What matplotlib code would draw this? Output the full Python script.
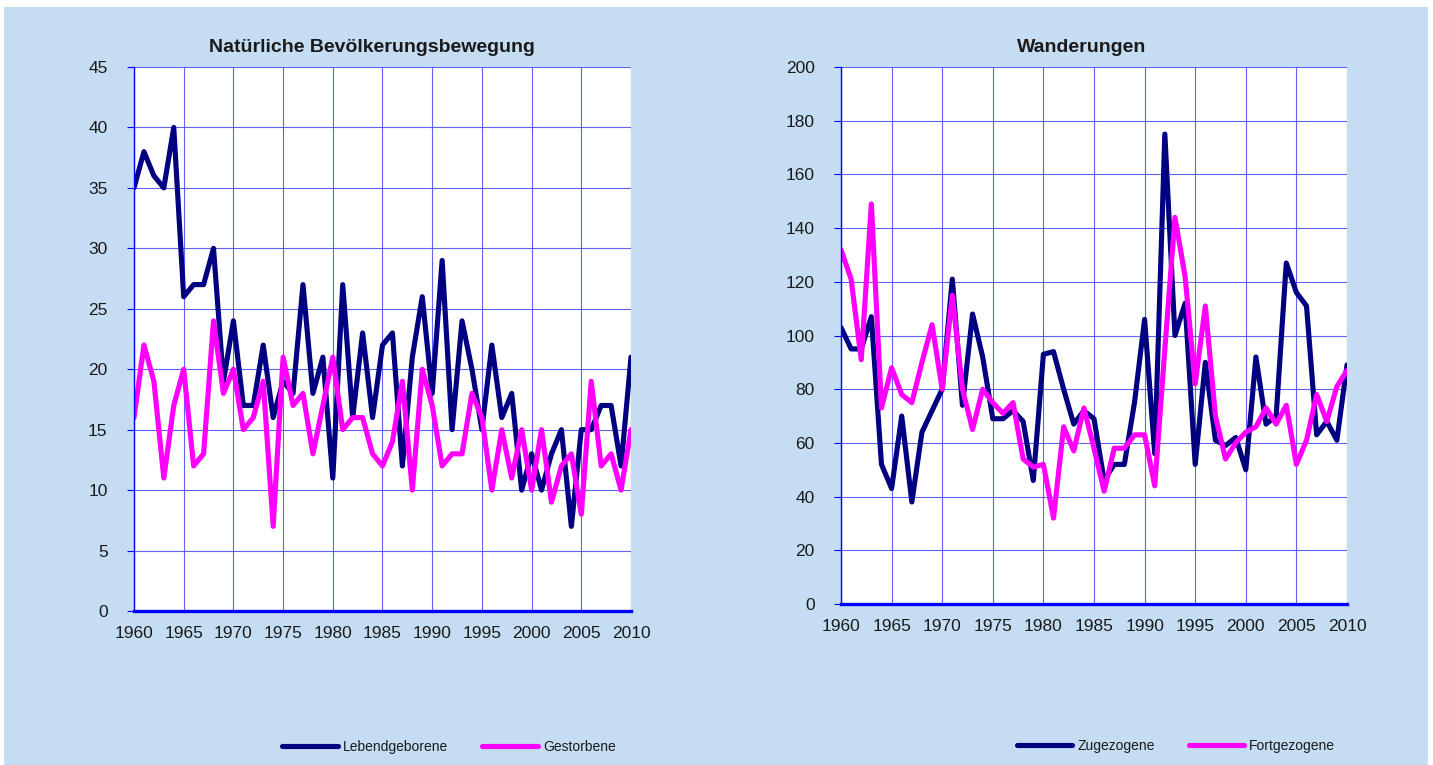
import matplotlib
matplotlib.use("Agg")
import matplotlib.pyplot as plt
from matplotlib.patches import Rectangle

plt.rcParams['font.family'] = ['Liberation Sans', 'DejaVu Sans']

# Jahre 1960 - 2010
jahre = list(range(1960, 2011))

# Natürliche Bevölkerungsbewegung
lebendgeborene = [35, 38, 36, 35, 40, 26, 27, 27, 30, 19,
                  24, 17, 17, 22, 16, 19, 18, 27, 18, 21,
                  11, 27, 16, 23, 16, 22, 23, 12, 21, 26,
                  18, 29, 15, 24, 20, 15, 22, 16, 18, 10,
                  13, 10, 13, 15, 7, 15, 15, 17, 17, 12,
                  21]
gestorbene = [16, 22, 19, 11, 17, 20, 12, 13, 24, 18,
              20, 15, 16, 19, 7, 21, 17, 18, 13, 17,
              21, 15, 16, 16, 13, 12, 14, 19, 10, 20,
              17, 12, 13, 13, 18, 16, 10, 15, 11, 15,
              10, 15, 9, 12, 13, 8, 19, 12, 13, 10,
              15]

# Wanderungen
zugezogene = [103, 95, 95, 107, 52, 43, 70, 38, 64, 72,
              80, 121, 74, 108, 92, 69, 69, 72, 68, 46,
              93, 94, 80, 67, 72, 69, 46, 52, 52, 75,
              106, 56, 175, 100, 112, 52, 90, 61, 59, 62,
              50, 92, 67, 70, 127, 116, 111, 63, 68, 61,
              89]
fortgezogene = [132, 121, 91, 149, 73, 88, 78, 75, 90, 104,
                80, 115, 80, 65, 80, 75, 71, 75, 54, 51,
                52, 32, 66, 57, 73, 58, 42, 58, 58, 63,
                63, 44, 95, 144, 122, 82, 111, 70, 54, 60,
                64, 66, 73, 67, 74, 52, 61, 78, 68, 81,
                87]

x_ticks = list(range(1960, 2011, 5))

NAVY = '#000080'
PINK = '#FF00FF'
BG = '#C5DDF2'
GRID = '#5050F5'
TXT = '#1a1a1a'

W, H = 1433, 765
fig = plt.figure(figsize=(W / 100, H / 100), dpi=100)
fig.patch.set_facecolor('white')
# hellblauer Hintergrund mit schmalem weissen Rand
fig.patches.append(Rectangle((4 / W, 0), 1424 / W, 758 / H, transform=fig.transFigure,
                             facecolor=BG, edgecolor='none', zorder=-10))


def make_axes(px_left, px_right, px_top, px_bottom):
    return fig.add_axes([px_left / W, 1 - px_bottom / H,
                         (px_right - px_left) / W, (px_bottom - px_top) / H])


def style(ax, ymax, ystep):
    ax.set_facecolor('white')
    ax.set_xlim(1960, 2010)
    ax.set_ylim(0, ymax)
    ax.set_xticks(x_ticks)
    ax.set_yticks(range(0, ymax + 1, ystep))
    ax.grid(True, color=GRID, lw=0.8, alpha=0.9)
    ax.set_axisbelow(True)
    for s in ['top', 'right']:
        ax.spines[s].set_visible(False)
    ax.spines['left'].set_color('#0000FF')
    ax.spines['left'].set_linewidth(1.0)
    ax.spines['bottom'].set_color('#0000FF')
    ax.spines['bottom'].set_linewidth(2.4)
    ax.tick_params(axis='y', colors='#0000FF', length=5, width=0.8, pad=14,
                   labelcolor=TXT, labelsize=12.5)
    ax.tick_params(axis='x', length=0, pad=11, labelcolor=TXT, labelsize=12.5)


def add_legend(ax, cx, cy):
    ax.legend(loc='center', bbox_to_anchor=(cx / W, 1 - cy / H), bbox_transform=fig.transFigure,
              ncol=2, frameon=False, fontsize=10, handlelength=4.0, columnspacing=2.45,
              handletextpad=0.36, labelcolor=TXT)


# linke Grafik
ax1 = make_axes(134, 631, 67, 611)
ax1.plot(jahre, lebendgeborene, color=NAVY, lw=3.7, label='Lebendgeborene',
         solid_joinstyle='round', solid_capstyle='round')
ax1.plot(jahre, gestorbene, color=PINK, lw=3.7, label='Gestorbene',
         solid_joinstyle='round', solid_capstyle='round')
style(ax1, 45, 5)
fig.text(372 / W, 1 - 47 / H, 'Natürliche Bevölkerungsbewegung', ha='center', va='center',
         fontsize=14, fontweight='bold', color=TXT)
add_legend(ax1, 449, 747)

# rechte Grafik
ax2 = make_axes(841, 1347, 67, 604)
ax2.plot(jahre, zugezogene, color=NAVY, lw=3.7, label='Zugezogene',
         solid_joinstyle='round', solid_capstyle='round')
ax2.plot(jahre, fortgezogene, color=PINK, lw=3.7, label='Fortgezogene',
         solid_joinstyle='round', solid_capstyle='round')
style(ax2, 200, 20)
fig.text(1082 / W, 1 - 47 / H, 'Wanderungen', ha='center', va='center',
         fontsize=14, fontweight='bold', color=TXT)
add_legend(ax2, 1176, 746)

fig.savefig('out.png', dpi=100, facecolor=fig.get_facecolor())
